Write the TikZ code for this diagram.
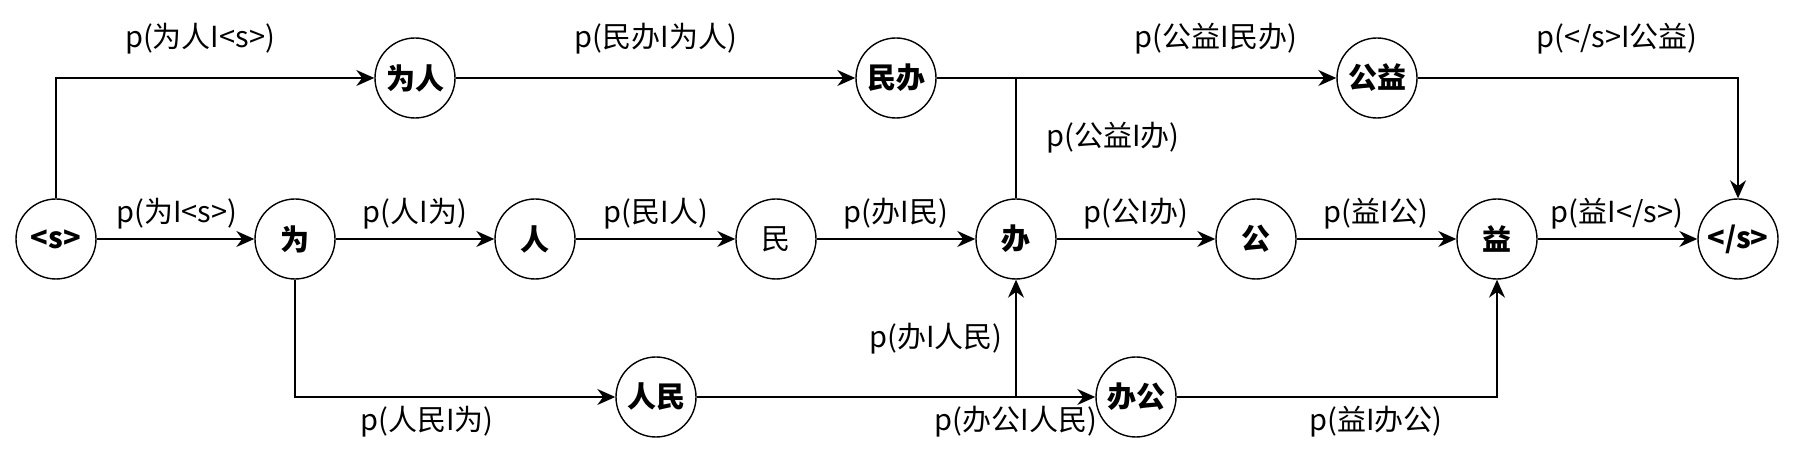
\documentclass[tikz,border=0pt]{standalone}
\usepackage{fontspec}
\setmainfont{Noto Sans CJK SC}
\usetikzlibrary{arrows.meta}
\begin{document}
\begin{tikzpicture}[x=0.5pt,y=-0.5pt]
\tikzstyle{word} = [draw, circle, minimum size=40pt, inner sep=0pt, line width=0.7pt, font=\fontsize{14.5}{14.5}\selectfont\bfseries]
\tikzstyle{prob} = [font=\fontsize{14.5}{14.5}\selectfont]
\tikzstyle{link} = [line width=0.7pt, -{Stealth[length=9pt,width=8pt]}]
\useasboundingbox (0,0) rectangle (1794,458);

	% middle row: one word per node
	\node[word] (bos) at (56,239) {<s>};
	\node[word] (wei) at (295,239) {为};
	\node[word] (ren) at (535,239) {人};
	\node[word, font=\fontsize{14.5}{14.5}\selectfont] (min) at (776,239) {民};
	\node[word] (ban) at (1016,239) {办};
	\node[word] (gong) at (1256,239) {公};
	\node[word] (yi) at (1497,239) {益};
	\node[word] (eos) at (1738,239) {</s>};

	% top and bottom rows: two-word nodes
	\node[word] (weiren) at (415,78) {为人};
	\node[word] (minban) at (896,78) {民办};
	\node[word] (gongyi) at (1377,78) {公益};
	\node[word] (renmin) at (656,397) {人民};
	\node[word] (bangong) at (1136,397) {办公};

	\coordinate (up) at (ban |- minban);
	\coordinate (down) at (ban |- renmin);

	\draw[link] (bos) -- (wei);
	\draw[link] (wei) -- (ren);
	\draw[link] (ren) -- (min);
	\draw[link] (min) -- (ban);
	\draw[link] (ban) -- (gong);
	\draw[link] (gong) -- (yi);
	\draw[link] (yi) -- (eos);

	\draw[link] (bos) |- (weiren);
	\draw[link] (weiren) -- (minban);
	\draw[link] (minban) -- (gongyi);
	\draw[line width=0.7pt] (ban) -- (up);
	\draw[link] (gongyi) -| (eos);

	\draw[link] (wei) |- (renmin);
	\draw[link] (renmin) -- (bangong);
	\draw[link] (down) -- (ban);
	\draw[link] (bangong) -| (yi);

	% probabilities
	\node[prob] (p1) at (200,39) {p(为人I<s>)};
	\node[prob] (p2) at (656,39) {p(民办I为人)};
	\node[prob] (p3) at (1216,39) {p(公益I民办)};
	\node[prob] (p4) at (1617,39) {p(</s>I公益)};
	\node[prob] (p5) at (1113,138) {p(公益I办)};
	\node[prob] (p6) at (177,214) {p(为I<s>)};
	\node[prob] (p7) at (415,214) {p(人I为)};
	\node[prob] (p8) at (656,214) {p(民I人)};
	\node[prob] (p9) at (896,214) {p(办I民)};
	\node[prob] (p10) at (1136,214) {p(公I办)};
	\node[prob] (p11) at (1376,214) {p(益I公)};
	\node[prob] (p12) at (1617,214) {p(益I</s>)};
	\node[prob] (p13) at (936,339) {p(办I人民)};
	\node[prob] (p14) at (427,422) {p(人民I为)};
	\node[prob] (p15) at (1016,422) {p(办公I人民)};
	\node[prob] (p16) at (1376,422) {p(益I办公)};
\end{tikzpicture}
\end{document}
